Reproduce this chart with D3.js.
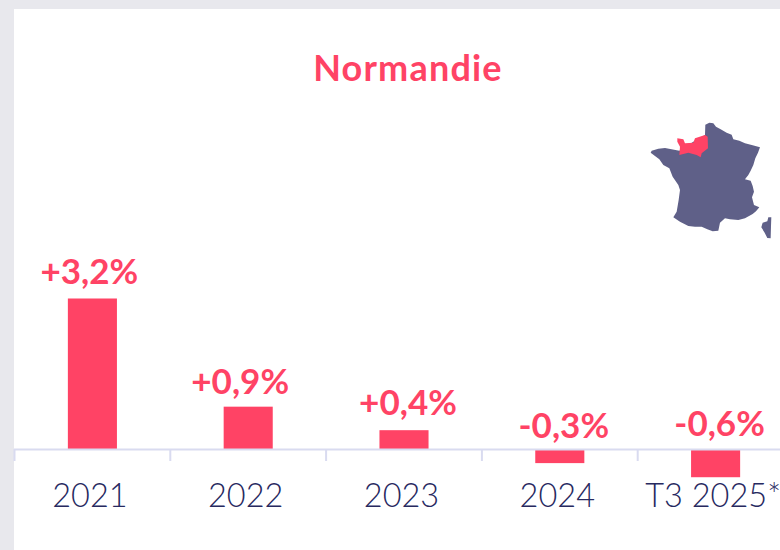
<!DOCTYPE html>
<html>
<head>
<meta charset="utf-8">
<script src="https://cdn.jsdelivr.net/npm/d3@7"></script>
<style>
  html, body { margin: 0; padding: 0; background: #e8e8ed; overflow: hidden; }
  svg { display: block; }
  text { font-family: Lato, sans-serif; }
</style>
</head>
<body>
<svg></svg>
<script>
var title = 'Normandie';
var categories = ['2021', '2022', '2023', '2024', 'T3 2025*'];
var growth = [3.2, 0.9, 0.4, -0.3, -0.6];
var growthLabels = ['+3,2%', '+0,9%', '+0,4%', '-0,3%', '-0,6%'];

// hand placed labels in the original, not quite centred on the bars
var labelDx = [-3, -8, 4, 4, 4];
var labelDy = [0, 2, 0, 0, -2];

// outlines, in map pixels
var franceOutline = [[226,44],[238,38],[250,40],[258,50],[272,58],[290,68],[305,74],[310,88],[328,92],[345,100],[368,106],[390,112],[384,128],[376,145],[370,165],[362,182],[355,195],[345,208],[362,212],[368,228],[372,245],[366,262],[372,285],[388,292],[378,304],[368,312],[345,325],[325,330],[300,328],[285,325],[270,338],[265,362],[248,364],[232,358],[215,350],[195,350],[175,348],[150,335],[130,322],[140,305],[146,270],[150,240],[145,225],[128,200],[118,175],[100,165],[88,148],[62,128],[65,122],[85,116],[105,114],[148,122],[190,95],[225,75]];
var corsicaOutline = [[415,322],[424,322],[423,350],[422,385],[412,384],[404,368],[394,352],[398,338],[412,334]];
var normandyOutline = [[142,85],[160,88],[165,100],[190,98],[195,85],[225,75],[233,80],[234,115],[215,130],[212,142],[200,135],[175,128],[148,135],[150,110],[142,95]];

var width = 780, height = 550;
var pink = '#ff4365', navy = '#27295f', slate = '#5f6088', axisColor = '#d9dbf0';

var svg = d3.select('svg').attr('width', width).attr('height', height);

// white panel
svg.append('rect')
  .attr('x', 14).attr('y', 9)
  .attr('width', width - 14).attr('height', height - 9)
  .attr('fill', '#fff');

var x = d3.scaleBand().domain(categories).range([14.5, 793.5]).paddingInner(0.685).paddingOuter(0.3425);
var y = d3.scaleLinear().domain([0, 3.2]).range([449, 298.5]);

svg.append('text')
  .attr('x', 408).attr('y', 81)
  .attr('text-anchor', 'middle')
  .attr('font-size', 36).attr('font-weight', 700)
  .attr('letter-spacing', 1.2)
  .attr('fill', pink)
  .text(title);

// bars
svg.selectAll('rect.bar')
  .data(growth)
  .enter()
  .append('rect')
  .attr('class', 'bar')
  .attr('x', function(d, i) { return x(categories[i]); })
  .attr('y', function(d) { return y(Math.max(d, 0)); })
  .attr('width', x.bandwidth())
  .attr('height', function(d) { return Math.abs(y(d) - y(0)); })
  .attr('fill', pink);

// axis line with ticks on the band edges
var step = x.step();
var edges = d3.range(categories.length + 1).map(function(i) { return 14.5 + i * step; });

svg.append('line')
  .attr('x1', 14).attr('x2', width)
  .attr('y1', y(0) + 0.5).attr('y2', y(0) + 0.5)
  .attr('stroke', axisColor).attr('stroke-width', 2);

svg.selectAll('line.edge')
  .data(edges)
  .enter()
  .append('line')
  .attr('class', 'edge')
  .attr('x1', function(d) { return d; })
  .attr('x2', function(d) { return d; })
  .attr('y1', y(0))
  .attr('y2', y(0) + 12)
  .attr('stroke', axisColor).attr('stroke-width', 2);

// category labels
var axis = d3.axisBottom(x).tickSize(0).tickPadding(0);
var axisG = svg.append('g').attr('transform', 'translate(0,478)').call(axis);
axisG.select('.domain').remove();
axisG.selectAll('text')
  .attr('dy', 0)
  .attr('y', 29)
  .attr('dx', -2.5)
  .style('font-family', 'Lato, sans-serif')
  .style('font-size', '32.5px')
  .style('font-weight', 300)
  .attr('fill', navy);

// value labels, negative ones sit above the axis
svg.selectAll('text.value')
  .data(growth)
  .enter()
  .append('text')
  .attr('class', 'value')
  .attr('x', function(d, i) { return x(categories[i]) + x.bandwidth() / 2 + labelDx[i]; })
  .attr('y', function(d, i) { return (d >= 0 ? y(d) - 15 : y(0) - 11) + labelDy[i]; })
  .attr('text-anchor', 'middle')
  .attr('font-size', 35).attr('font-weight', 700)
  .attr('fill', pink)
  .text(function(d, i) { return growthLabels[i]; });

// map
var mapLine = d3.line().curve(d3.curveLinearClosed);
var map = svg.append('g').attr('transform', 'translate(630,110) scale(0.3333)');
map.append('path').attr('d', mapLine(franceOutline)).attr('fill', slate);
map.append('path').attr('d', mapLine(corsicaOutline)).attr('fill', slate);
map.append('path').attr('d', mapLine(normandyOutline)).attr('fill', pink);
</script>
</body>
</html>
